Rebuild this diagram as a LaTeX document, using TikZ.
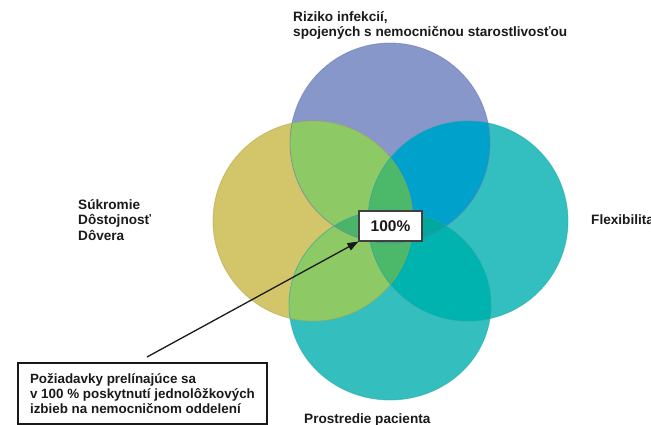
\documentclass[tikz,border=0pt]{standalone}
\usepackage{fontspec}
\setmainfont{Liberation Sans}
\usetikzlibrary{arrows.meta}
\definecolor{cTop}{HTML}{8797C9}
\definecolor{cLeft}{HTML}{D3C66A}
\definecolor{cRight}{HTML}{33BFBF}
\definecolor{cBot}{HTML}{35BEBE}
\definecolor{cTL}{HTML}{8DC965}
\definecolor{cTR}{HTML}{00A2CC}
\definecolor{cLB}{HTML}{8DC965}
\definecolor{cRB}{HTML}{00B3AE}
\definecolor{cLR}{HTML}{4CB86A}
\definecolor{cTBL}{HTML}{4CB46A}
\definecolor{cTBR}{HTML}{00A89E}
\definecolor{cAll}{HTML}{45B068}
\definecolor{oTop}{HTML}{6678B0}
\definecolor{oLeft}{HTML}{B0A348}
\definecolor{oTeal}{HTML}{25A6A6}
\definecolor{txt}{HTML}{1A1A1A}
\tikzset{
  lbl/.style={inner sep=0pt, text=txt, font=\fontsize{13.6}{15.5}\selectfont\bfseries, align=left},
  pctbox/.style={draw=black!75, line width=1.1pt, fill=white, minimum width=63pt, minimum height=30pt, inner sep=0pt, text=txt, font=\fontsize{15.5}{17}\selectfont\bfseries},
  callbox/.style={draw=black!90, line width=1.8pt, fill=white, minimum width=249pt, minimum height=61pt, inner xsep=8pt, inner ysep=0pt, align=left, text=txt, font=\fontsize{13.4}{15}\selectfont\bfseries},
  ring/.style={line width=0.8pt, opacity=0.55},
  pointer/.style={line width=1.3pt, draw=txt, -{Triangle[length=11pt,width=8pt]}}
}
\begin{document}
\begin{tikzpicture}[x=1pt,y=-1pt]
\useasboundingbox (0,0) rectangle (651,425);
\def\cT{(390,143) circle [radius=100]}
\def\cL{(313,221) circle [radius=100]}
\def\cR{(468,221) circle [radius=100]}
\def\cB{(390,305) ellipse [x radius=101, y radius=95]}
% base fills
\fill[cLeft] \cL;
\fill[cRight] \cR;
\fill[cTop] \cT;
\fill[cBot] \cB;
% pairwise overlaps
\begin{scope}
  \clip \cT;
  \fill[cTL] \cL;
  \fill[cTR] \cR;
\end{scope}
\begin{scope}
  \clip \cB;
  \fill[cLB] \cL;
  \fill[cRB] \cR;
\end{scope}
\begin{scope}
  \clip \cL;
  \clip \cR;
  \fill[cLR] (200,100) rectangle (600,420);
\end{scope}
\begin{scope}
  \clip \cT;
  \clip \cB;
  \fill[cTBL] \cL;
  \fill[cTBR] \cR;
\end{scope}
\begin{scope}
  \clip \cT;
  \clip \cB;
  \clip \cL;
  \fill[cAll] \cR;
\end{scope}
% outlines
\draw[ring, draw=oLeft] \cL;
\draw[ring, draw=oTeal] \cR;
\draw[ring, draw=oTop] \cT;
\draw[ring, draw=oTeal] \cB;
% labels
\node[lbl, anchor=north west] (risk) at (293,11) {Riziko infekcií,\\spojených s nemocničnou starostlivosťou};
\node[lbl, anchor=north west] (priv) at (78,199) {Súkromie\\Dôstojnosť\\Dôvera};
\node[lbl, anchor=base west] (flex) at (591,224.5) {Flexibilita};
\node[lbl, anchor=base west] (env) at (304,423) {Prostredie pacienta};
% centre box
\node[pctbox] (pct) at (390.5,226) {100\%};
% callout
\node[callbox] (call) at (142.5,393.5) {Požiadavky prelínajúce sa\\v 100 \% poskytnutí jednolôžkových\\izbieb na nemocničnom oddelení};
\coordinate (start) at (147,357);
\draw[pointer] (start) -- (pct.south west);
\end{tikzpicture}
\end{document}
